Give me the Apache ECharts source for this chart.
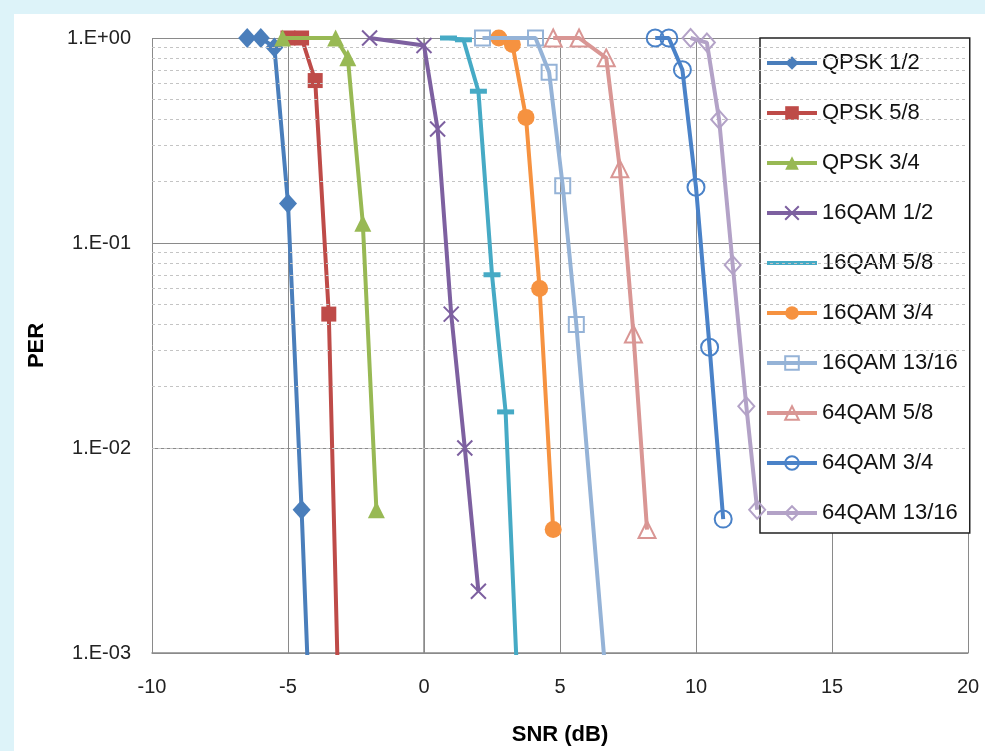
<!DOCTYPE html>
<html>
<head>
<meta charset="utf-8">
<script src="https://cdn.jsdelivr.net/npm/echarts@6/dist/echarts.min.js"></script>
<style>
html,body{margin:0;padding:0;background:#ddf3f9;}
#wrap{position:absolute;left:14px;top:14px;width:971px;height:737px;background:#fff;}
#chart{position:absolute;left:-14px;top:-14px;width:985px;height:751px;}
</style>
</head>
<body>
<div id="wrap"><div id="chart"></div></div>
<script>
// ---- data ----
const seriesNames = ['QPSK 1/2','QPSK 5/8','QPSK 3/4','16QAM 1/2','16QAM 5/8','16QAM 3/4','16QAM 13/16','64QAM 5/8','64QAM 3/4','64QAM 13/16'];
const snrQpsk12 = [-6.5, -6.0, -5.5, -5.0, -4.5, -4.0];
const perQpsk12 = [1, 1, 0.9, 0.156, 0.005, 0.0001];
const snrQpsk58 = [-5.0, -4.5, -4.0, -3.5, -3.0];
const perQpsk58 = [1, 1, 0.62, 0.045, 0.0001];
const snrQpsk34 = [-5.2, -3.25, -2.8, -2.25, -1.75];
const perQpsk34 = [1, 1, 0.8, 0.125, 0.005];
const snr16q12 = [-2.0, 0, 0.5, 1.0, 1.5, 2.0];
const per16q12 = [1, 0.92, 0.36, 0.045, 0.01, 0.002];
const snr16q58 = [0.9, 1.45, 2.0, 2.5, 3.0, 3.5];
const per16q58 = [1, 0.98, 0.55, 0.07, 0.015, 0.00045];
const snr16q34 = [2.75, 3.25, 3.75, 4.25, 4.75];
const per16q34 = [1, 0.93, 0.41, 0.06, 0.004];
const snr16q1316 = [2.15, 4.1, 4.6, 5.1, 5.6, 6.75];
const per16q1316 = [1, 1, 0.68, 0.19, 0.04, 0.0006];
const snr64q58 = [4.75, 5.7, 6.7, 7.2, 7.7, 8.2];
const per64q58 = [1, 1, 0.8, 0.23, 0.036, 0.004];
const snr64q34 = [8.5, 9.0, 9.5, 10.0, 10.5, 11.0];
const per64q34 = [1, 1, 0.7, 0.187, 0.031, 0.0045];
const snr64q1316 = [9.8, 10.4, 10.85, 11.35, 11.85, 12.25];
const per64q1316 = [1, 0.95, 0.4, 0.078, 0.016, 0.005];
const xTicks = [-10, -5, 0, 5, 10, 15, 20];
const yMajorTicks = [0.001, 0.01, 0.1, 1];
const yMinorTicks = [0.002,0.003,0.004,0.005,0.006,0.007,0.008,0.009,
                     0.02,0.03,0.04,0.05,0.06,0.07,0.08,0.09,
                     0.2,0.3,0.4,0.5,0.6,0.7,0.8,0.9];

const xs = [snrQpsk12, snrQpsk58, snrQpsk34, snr16q12, snr16q58, snr16q34, snr16q1316, snr64q58, snr64q34, snr64q1316];
const ys = [perQpsk12, perQpsk58, perQpsk34, per16q12, per16q58, per16q34, per16q1316, per64q58, per64q34, per64q1316];

// ---- styles ----
const colors = ['#4A7EBB','#BE4B48','#98B954','#7D60A0','#46AAC5','#F69240','#95B3D7','#D99694','#4A82C8','#B3A2C7'];
const crossPath = 'path://M0,0L10,10M10,0L0,10';
const symbols = [
  {s:'diamond', size:[18,20], hollow:false},
  {s:'rect', size:15, hollow:false},
  {s:'triangle', size:17, hollow:false},
  {s:crossPath, size:15, hollow:true, bw:2},
  {s:'rect', size:[17,5], hollow:false},
  {s:'circle', size:17, hollow:false},
  {s:'rect', size:15, hollow:true, bw:2},
  {s:'triangle', size:17, hollow:true, bw:2},
  {s:'circle', size:17, hollow:true, bw:2},
  {s:'diamond', size:[16,18], hollow:true, bw:2}
];

const series = seriesNames.map((name, i) => {
  const sym = symbols[i];
  return {
    name: name,
    type: 'line',
    data: xs[i].map((x, k) => [x, ys[i][k]]),
    symbol: sym.s,
    symbolSize: sym.size,
    showAllSymbol: true,
    clip: true,
    z: 3 + i,
    lineStyle: {color: colors[i], width: 4},
    itemStyle: sym.hollow
      ? {color: 'none', borderColor: colors[i], borderWidth: sym.bw}
      : {color: colors[i], borderColor: colors[i], borderWidth: 0},
    emphasis: {disabled: true},
    animation: false
  };
});

series.push({
  name: 'minorGrid',
  type: 'line',
  data: [],
  z: 1,
  silent: true,
  animation: false,
  markLine: {
    silent: true,
    symbol: ['none', 'none'],
    label: {show: false},
    animation: false,
    lineStyle: {color: '#c4c4c4', width: 1, type: [3, 3]},
    emphasis: {disabled: true},
    data: yMinorTicks.map(v => ({yAxis: v}))
  }
});

const fmtY = v => {
  const e = Math.round(Math.log10(v));
  return '1.E' + (e < 0 ? '-' : '+') + String(Math.abs(e)).padStart(2, '0');
};

const legendData = seriesNames.map((n, i) =>
  i === 4 ? {name: n, icon: 'path://M0,0L50,0L50,4L0,4Z'} : {name: n});

const chart = echarts.init(document.getElementById('chart'), null, {renderer: 'canvas'});
chart.setOption({
  backgroundColor: 'transparent',
  animation: false,
  textStyle: {fontFamily: 'Liberation Sans, Arial, sans-serif'},
  grid: {left: 152, right: 17, top: 38, bottom: 96, containLabel: false},
  xAxis: {
    type: 'value',
    min: xTicks[0],
    max: xTicks[xTicks.length - 1],
    interval: 5,
    name: 'SNR (dB)',
    nameLocation: 'middle',
    nameGap: 71,
    nameTextStyle: {fontSize: 22, fontWeight: 'bold', color: '#000', fontFamily: 'Liberation Sans, Arial, sans-serif'},
    axisLine: {show: true, onZero: false, lineStyle: {color: '#8a8a8a', width: 1.5}},
    axisTick: {show: false},
    axisLabel: {fontSize: 20, color: '#222', margin: 24},
    splitLine: {show: true, lineStyle: {color: '#8a8a8a', width: 1}}
  },
  yAxis: {
    type: 'log',
    logBase: 10,
    min: yMajorTicks[0],
    max: yMajorTicks[yMajorTicks.length - 1],
    splitNumber: 3,
    name: 'PER',
    nameLocation: 'middle',
    nameGap: 104,
    nameTextStyle: {fontSize: 22, fontWeight: 'bold', color: '#000', fontFamily: 'Liberation Sans, Arial, sans-serif'},
    axisLine: {show: true, lineStyle: {color: '#8a8a8a', width: 1.5}},
    axisTick: {show: false},
    axisLabel: {fontSize: 20, color: '#222', margin: 21, formatter: fmtY},
    splitLine: {show: true, lineStyle: {color: '#8a8a8a', width: 1.2}}
  },
  legend: {
    show: true,
    data: legendData,
    orient: 'vertical',
    left: 760,
    top: 38,
    itemWidth: 50,
    itemHeight: 17,
    itemGap: 28,
    padding: [14, 12, 9, 5],
    backgroundColor: '#fff',
    borderColor: '#222',
    borderWidth: 1.5,
    lineStyle: {width: 4},
    textStyle: {fontSize: 22, color: '#111', lineHeight: 22},
    selectedMode: false
  },
  series: series
});
</script>
</body>
</html>
